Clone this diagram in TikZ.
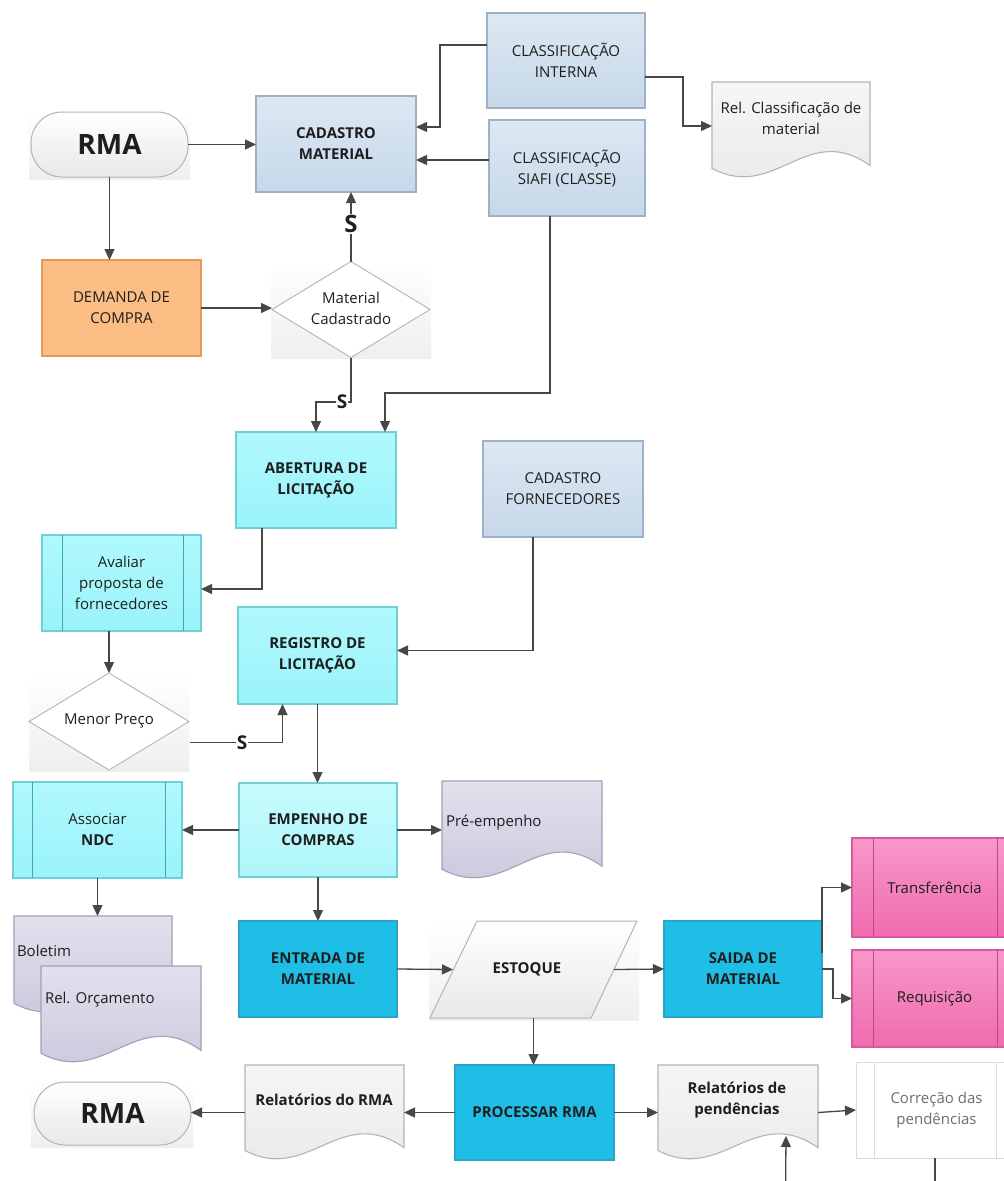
\documentclass[tikz,border=0pt]{standalone}
\usepackage{fontspec}
\setmainfont{Open Sans}
\usetikzlibrary{arrows.meta,calc,shapes.geometric}

\definecolor{lineC}{HTML}{474747}
\definecolor{stT}{HTML}{DDE8F3}
\definecolor{stB}{HTML}{C6D8E9}
\definecolor{stD}{HTML}{9DB2C7}
\definecolor{orF}{HTML}{FBBD83}
\definecolor{orD}{HTML}{E19A57}
\definecolor{cyT}{HTML}{B0F9FD}
\definecolor{cyB}{HTML}{9AF3FA}
\definecolor{cyD}{HTML}{6CD0D6}
\definecolor{cyLT}{HTML}{C6FBFD}
\definecolor{cyLB}{HTML}{AEF6FA}
\definecolor{cyI}{HTML}{3FA9B2}
\definecolor{dcF}{HTML}{1EBEE6}
\definecolor{dcD}{HTML}{2AA5C8}
\definecolor{pkT}{HTML}{F897C9}
\definecolor{pkB}{HTML}{F06BAF}
\definecolor{pkD}{HTML}{D85A9E}
\definecolor{pkI}{HTML}{B94A86}
\definecolor{puT}{HTML}{E4E0ED}
\definecolor{puB}{HTML}{CAC3DB}
\definecolor{puD}{HTML}{A59EB6}
\definecolor{gyT}{HTML}{F6F6F6}
\definecolor{gyB}{HTML}{E8E8E8}
\definecolor{gyD}{HTML}{B4B4B4}
\definecolor{gyE}{HTML}{DDDDDD}
\definecolor{corT}{HTML}{6E6E6E}
\definecolor{txt}{HTML}{1E1E1E}

\newcommand\boxfont{\fontsize{15}{21}\selectfont}
\newcommand\bx[7]{\node[#1, anchor=north west, minimum width={(#5-#3)*1pt}, minimum height={(#6-#4)*1pt}] (#2) at (#3,#4) {#7};}
\newcommand\docu[6]{%
  \node[anchor=north west, minimum width={(#5-#3)*1pt}, minimum height={(#6-#4)*1pt}, inner sep=0pt] (#2) at (#3,#4) {};
  \path[#1] (#3,#4) -- (#5,#4) -- (#5,{#4+0.87*(#6-#4)}) .. controls ({#3+0.6*(#5-#3)},{#4+0.4*(#6-#4)}) and ({#3+0.4*(#5-#3)},{#4+1.25*(#6-#4)}) .. (#3,{#4+0.9*(#6-#4)}) -- cycle;}
\newcommand\innerl[4]{%
  \draw[#1] ($(#2.north west)+(#3,0)$) -- ($(#2.south west)+(#3,0)$);
  \draw[#1] ($(#2.north east)+(-#4,0)$) -- ($(#2.south east)+(-#4,0)$);}

\tikzset{
  every node/.style={outer sep=0pt, text=txt},
  base/.style={rectangle, line width=1.3pt, font=\boxfont, align=center, inner sep=2pt},
  steelbox/.style={base, draw=stD, top color=stT, bottom color=stB},
  orangebox/.style={base, draw=orD, fill=orF},
  cyanbox/.style={base, draw=cyD, top color=cyT, bottom color=cyB},
  cyanlbox/.style={base, draw=cyD, top color=cyLT, bottom color=cyLB},
  dcyanbox/.style={base, draw=dcD, fill=dcF},
  pinkbox/.style={base, draw=pkD, top color=pkT, bottom color=pkB},
  ghostbox/.style={base, draw=gyE, line width=1pt, fill=white, text=corT},
  termbox/.style={base, rounded corners=31pt, draw=gyD, line width=1pt, top color=white, bottom color=gyB},
  backdrop/.style={top color=white, bottom color=gyB!70},
  purpledoc/.style={draw=puD, line width=1.1pt, top color=puT, bottom color=puB},
  greydoc/.style={draw=gyD, line width=1.1pt, top color=gyT, bottom color=gyB},
  dia/.style={diamond, draw=gyD, line width=0.9pt, fill=white, inner sep=0pt},
  arr/.style={draw=lineC, line width=1.3pt, -{Triangle[length=11pt,width=10pt]}},
  ln/.style={draw=lineC, line width=1.3pt},
  slab/.style={fill=white, font=\fontsize{19}{19}\selectfont\bfseries, inner sep=1pt},
  txtn/.style={font=\boxfont, align=center, inner sep=0pt},
  cyl/.style={draw=cyI, line width=0.9pt},
  pkl/.style={draw=pkI, line width=0.9pt},
  gyl/.style={draw=gyE, line width=0.9pt},
}

\begin{document}
\begin{tikzpicture}[x=1pt,y=-1pt]
\useasboundingbox (0,0) rectangle (1004,1181);
\fill[white] (0,0) rectangle (1004,1181);

% ---------- top ----------
\fill[backdrop] (29,110) rectangle (190,179);
\bx{termbox}{rma1}{31}{112}{188}{177}{\fontsize{28}{28}\selectfont\bfseries RMA}
\bx{steelbox}{cad}{256}{96}{416}{192}{\bfseries CADASTRO\\\bfseries MATERIAL}
\bx{steelbox}{ci}{487}{13}{645}{108}{CLASSIFICAÇÃO\\INTERNA}
\bx{steelbox}{cs}{489}{120}{645}{216}{CLASSIFICAÇÃO\\SIAFI (CLASSE)}
\docu{greydoc}{rel1}{712}{82}{870}{178}
\node[txtn] (rel1t) at (791,118) {Rel. Classificação de\\material};
\bx{orangebox}{dem}{42}{260}{201}{356}{DEMANDA DE\\COMPRA}
\fill[backdrop] (271,259) rectangle (431,358);
\node[dia, minimum width=158pt, minimum height=96pt] (d1) at (351,309.5) {};
\node[txtn] (d1t) at (351,308) {Material\\Cadastrado};

% ---------- middle ----------
\bx{cyanbox}{ab}{236}{432}{396}{528}{\bfseries ABERTURA DE\\\bfseries LICITAÇÃO}
\bx{steelbox}{cf}{483}{441}{643}{537}{CADASTRO\\FORNECEDORES}
\bx{cyanbox}{av}{42}{535}{201}{631}{Avaliar\\proposta de\\fornecedores}
\innerl{cyl}{av}{20}{18}
\bx{cyanbox}{reg}{238}{607}{397}{704}{\bfseries REGISTRO DE\\\bfseries LICITAÇÃO}
\fill[backdrop] (29,672) rectangle (189,771);
\node[dia, minimum width=160pt, minimum height=97pt] (d2) at (109,721.5) {};
\node[txtn] (d2t) at (109,721) {Menor Preço};

\bx{cyanbox}{as}{13}{782}{182}{878}{Associar\\\bfseries NDC}
\innerl{cyl}{as}{19}{17}
\bx{cyanlbox}{emp}{239}{783}{397}{877}{\bfseries EMPENHO DE\\\bfseries COMPRAS}
\docu{purpledoc}{pre}{442}{781}{602}{879}
\node[txtn, anchor=west] (pret) at (446,823) {Pré-empenho};

\docu{purpledoc}{bol}{14}{916}{172}{1013}
\node[txtn, anchor=west] (bolt) at (17,951) {Boletim};
\docu{purpledoc}{orc}{41}{966}{201}{1063}
\node[txtn, anchor=west] (orct) at (45,1000) {Rel. Orçamento};

\bx{dcyanbox}{ent}{239}{921}{397}{1017}{\bfseries ENTRADA DE\\\bfseries MATERIAL}
\fill[backdrop] (429,920) rectangle (639,1020);
\node[minimum width=207pt, minimum height=97pt, inner sep=0pt] (est) at (533.5,969.5) {};
\path[draw=gyD, line width=1pt, top color=white, bottom color=gyB] (430,1018) -- (477,921) -- (637,921) -- (591,1018) -- cycle;
\node[txtn] (estt) at (527,969) {\bfseries ESTOQUE};
\bx{dcyanbox}{sai}{664}{921}{822}{1017}{\bfseries SAIDA DE\\\bfseries MATERIAL}
\bx{pinkbox}{tr}{852}{838}{1017}{937}{Transferência}
\innerl{pkl}{tr}{21}{20}
\bx{pinkbox}{rq}{852}{950}{1017}{1047}{Requisição}
\innerl{pkl}{rq}{21}{20}

% ---------- bottom ----------
\bx{dcyanbox}{proc}{455}{1065}{614}{1160}{\bfseries PROCESSAR RMA}
\docu{greydoc}{rrma}{245}{1065}{404}{1160}
\node[txtn] (rrmat) at (324,1100) {\bfseries Relatórios do RMA};
\fill[backdrop] (31,1080) rectangle (193,1147);
\bx{termbox}{rma2}{34}{1082}{191}{1145}{\fontsize{28}{28}\selectfont\bfseries RMA}
\docu{greydoc}{pend}{658}{1065}{818}{1160}
\node[txtn] (pendt) at (737,1100) {\bfseries Relatórios de\\\bfseries pendências};
\bx{ghostbox}{cor}{856}{1062}{1017}{1158}{Correção das\\pendências}
\innerl{gyl}{cor}{18}{21}

% ---------- connectors ----------
\draw[arr] (rma1.east) -- (rma1.east -| cad.west);
\draw[arr] (rma1.south) -- (rma1.south |- dem.north);
\draw[arr] ($(ci.north west)+(0,32)$) -| ($(cad.north east)+(24,31)$) -- ($(cad.north east)+(0,31)$);
\draw[arr] ($(cs.north west)+(0,40)$) -- ($(cad.north east)+(0,64)$);
\draw[arr] ($(ci.north east)+(0,64)$) -| ($(rel1.north west)+(-29,44)$) -- ($(rel1.north west)+(0,44)$);
\draw[arr] (dem.east) -- (dem.east -| d1.west);
\draw[arr] (d1.north) -- (d1.north |- cad.south);
\node[slab, font=\fontsize{24}{24}\selectfont\bfseries] (s1) at (351,224) {S};
\draw[arr] (d1.south) |- ($(ab.north)+(0,-30)$) -- (ab.north);
\node[slab] (s2) at (342,402) {S};
\draw[arr] ($(cs.south)+(-17,0)$) |- ($(ab.north)+(69,-39)$) -- ($(ab.north)+(69,0)$);
\draw[arr] ($(ab.south)+(-54,0)$) |- ($(av.east)+(0,6)$);
\draw[arr] ($(cf.south)+(-30,0)$) |- ($(reg.east)+(0,-5)$);
\draw[arr] (d2.north |- av.south) -- (d2.north);
\draw[arr] ($(d2.east)+(1,21)$) -| ($(reg.south)+(-35,0)$);
\node[slab] (s3) at (242,743) {S};
\draw[arr] (reg.south) -- (reg.south |- emp.north);
\draw[arr] (emp.west) -- (emp.west -| as.east);
\draw[arr] (emp.east) -- (emp.east -| pre.west);
\draw[arr] (as.south) -- (as.south |- bol.north);
\draw[arr] (emp.south) -- (emp.south |- ent.north);
\draw[arr] (ent.east) -- ($(est.west)+(23,0)$);
\draw[arr] ($(est.east)+(-23,0)$) -- (sai.west);
\draw[arr] ($(sai.north east)+(0,32)$) |- (tr.west);
\draw[arr] (sai.east) -- ++(11,0) |- (rq.west);
\draw[arr] (est.south) -- (est.south |- proc.north);
\draw[arr] (proc.west) -- (proc.west -| rrma.east);
\draw[arr] (rrma.west) -- (rrma.west -| rma2.east);
\draw[arr] (proc.east) -- (proc.east -| pend.west);
\draw[arr] (pend.east) -- (cor.west);
\coordinate (corout) at (935,1200);
\draw[ln] (cor.south -| corout) -- (corout);
\coordinate (pendsrc) at (785.5,1200);
\draw[arr] (pendsrc) -- ($(pend.south)+(48,-24)$);
\end{tikzpicture}
\end{document}
